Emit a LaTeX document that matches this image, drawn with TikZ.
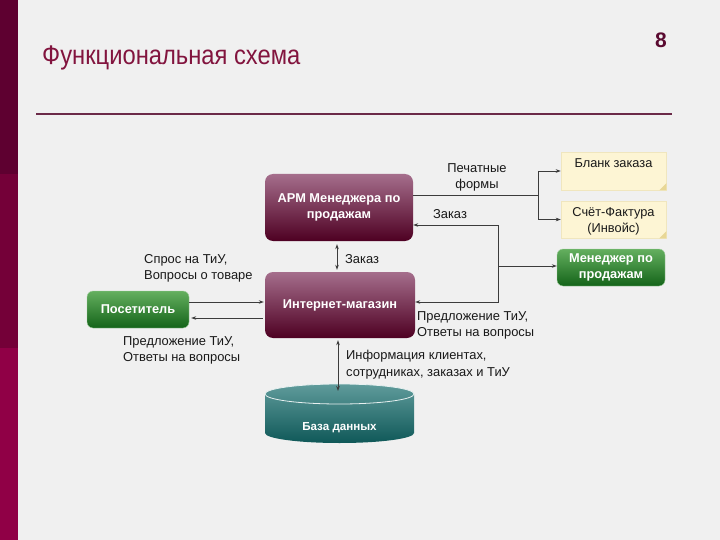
\documentclass[tikz,border=0pt]{standalone}
\usepackage{fontspec}
\setmainfont{Liberation Sans}
\newfontfamily\titlefont[FakeStretch=0.88]{Liberation Sans}
\usetikzlibrary{arrows.meta,calc}
\definecolor{bg}{RGB}{240,240,240}
\definecolor{stripA}{RGB}{94,0,48}
\definecolor{stripB}{RGB}{116,0,56}
\definecolor{stripC}{RGB}{144,0,70}
\definecolor{titlec}{RGB}{130,20,62}
\definecolor{numc}{RGB}{90,10,48}
\definecolor{rulec}{RGB}{107,42,72}
\definecolor{marTop}{RGB}{165,110,140}
\definecolor{marBot}{RGB}{78,0,34}
\definecolor{grTop}{RGB}{100,175,95}
\definecolor{grBot}{RGB}{20,100,25}
\definecolor{tealTop}{RGB}{95,155,155}
\definecolor{tealBot}{RGB}{15,88,88}
\definecolor{notefill}{RGB}{253,245,212}
\definecolor{noteedge}{RGB}{240,230,190}
\definecolor{notefold}{RGB}{232,215,150}
\definecolor{linec}{RGB}{60,60,60}
\definecolor{txt}{RGB}{25,25,25}
\tikzset{
  maroonbox/.style={rounded corners=8pt, top color=marTop, bottom color=marBot, middle color=marTop!50!marBot,
    text=white, font=\bfseries\fontsize{12.8}{16}\selectfont, align=center, inner sep=2pt},
  greenbox/.style={rounded corners=6pt, top color=grTop, bottom color=grBot, draw=grTop!60!white, line width=0.4pt,
    text=white, font=\bfseries\fontsize{12.8}{16}\selectfont, align=center, inner sep=2pt},
  notebox/.style={fill=notefill, draw=noteedge, line width=0.5pt, inner sep=0pt},
  notetext/.style={text=txt, font=\fontsize{12.8}{16.5}\selectfont, align=center, inner sep=0pt},
  lbl/.style={text=txt, font=\fontsize{12.9}{16.5}\selectfont, align=left, inner sep=0pt},
  conn/.style={draw=linec, line width=0.8pt, -{Stealth[length=5pt,width=3.6pt]}},
  conn2/.style={draw=linec, line width=0.8pt, {Stealth[length=5pt,width=3.6pt]}-{Stealth[length=5pt,width=3.6pt]}},
  plain/.style={draw=linec, line width=0.8pt},
}
\begin{document}
\begin{tikzpicture}[x=1pt,y=-1pt]
\useasboundingbox (0,0) rectangle (720,540);
\fill[bg] (0,0) rectangle (720,540);
\fill[stripA] (0,0) rectangle (18,174);
\fill[stripB] (0,174) rectangle (18,348);
\fill[stripC] (0,348) rectangle (18,540);
% title
\node[anchor=base west, inner sep=0pt, text=titlec, font=\titlefont\fontsize{27}{30}\selectfont] (title) at (42,65) {Функциональная схема};
\node[anchor=base east, inner sep=0pt, text=numc, font=\bfseries\fontsize{21}{24}\selectfont] (num) at (667,48) {8};
\draw[rulec, line width=1.6pt] (36,114) -- (672,114);

% main nodes
\node[maroonbox, minimum width=148pt, minimum height=67pt] (arm) at (339,207.5) {АРМ Менеджера по\\продажам};
\node[maroonbox, minimum width=150pt, minimum height=66pt] (shop) at (340,305) {Интернет-магазин};
\node[greenbox, minimum width=102pt, minimum height=37pt] (visitor) at (138,309.5) {Посетитель};
\node[greenbox, minimum width=108pt, minimum height=37pt] (manager) at (611,267.5) {Менеджер по\\продажам};

% notes
\node[notebox, minimum width=105pt, minimum height=38pt] (blank) at (613.5,171) {};
\node[notebox, minimum width=105pt, minimum height=37pt] (schet) at (613.5,219.5) {};
\fill[notefold] (blank.south east) -- ++(-7,0) -- ++(7,-7) -- cycle;
\fill[notefold] (schet.south east) -- ++(-7,0) -- ++(7,-7) -- cycle;
\node[notetext] (blanktxt) at (613.5,163.5) {Бланк заказа};
\node[notetext] (schettxt) at (613.5,221.5) {Счёт-Фактура\\(Инвойс)};

% database cylinder
\shade[top color=tealTop, bottom color=tealBot] (265,394) -- (265,433) arc[start angle=180, end angle=360, x radius=74.5pt, y radius=10pt] -- (414,394) arc[start angle=0, end angle=180, x radius=74.5pt, y radius=10pt] -- cycle;
\draw[white!85!tealTop, line width=0.8pt] (339.5,394) ellipse[x radius=74.5pt, y radius=10pt];
\node[text=white, font=\bfseries\fontsize{11.6}{14}\selectfont, inner sep=0pt] (db) at (339.5,428) {База данных};
\coordinate (dbtop) at (338,391);

% connectors
\coordinate (j1) at (538,195);
\draw[plain] (arm.east |- j1) -- (j1);
\draw[plain] (538,171) -- (538,219.5);
\draw[conn] (538,171) -- (blank.west);
\draw[conn] (538,219.5) -- (schet.west);

\coordinate (j2) at (498,266);
\draw[conn] (j2) -- (j2 -| manager.west);
\draw[conn] (j2) |- ([yshift=-17.5pt]arm.east);
\draw[conn] (j2) |- ([yshift=3pt]shop.east);

\draw[conn2] ([xshift=-2pt,yshift=-3pt]arm.south) -- ([xshift=-2pt,yshift=2pt]arm.south |- shop.north);
\draw[conn2] ([xshift=-2pt,yshift=-2pt]shop.south) -- (dbtop);

\draw[conn] ([yshift=7.5pt]visitor.east) -- ([xshift=-1pt,yshift=7.5pt]visitor.east -| shop.west);
\draw[conn] ([xshift=-2pt,yshift=-8.5pt]visitor.east -| shop.west) -- ([xshift=2pt,yshift=-8.5pt]visitor.east);

% labels
\node[lbl, align=center] (l1) at (477,177.5) {Печатные\\формы};
\node[lbl] (l2) at (450,214) {Заказ};
\node[lbl, anchor=west] (l3) at (345,259) {Заказ};
\node[lbl, anchor=west] (l4) at (144,268.5) {Спрос на ТиУ,\\Вопросы о товаре};
\node[lbl, anchor=west] (l5) at (123,350.5) {Предложение ТиУ,\\Ответы на вопросы};
\node[lbl, anchor=west] (l6) at (417,325.5) {Предложение ТиУ,\\Ответы на вопросы};
\node[lbl, anchor=west] (l7) at (346,364.5) {Информация клиентах,\\сотрудниках, заказах и ТиУ};
\end{tikzpicture}
\end{document}
